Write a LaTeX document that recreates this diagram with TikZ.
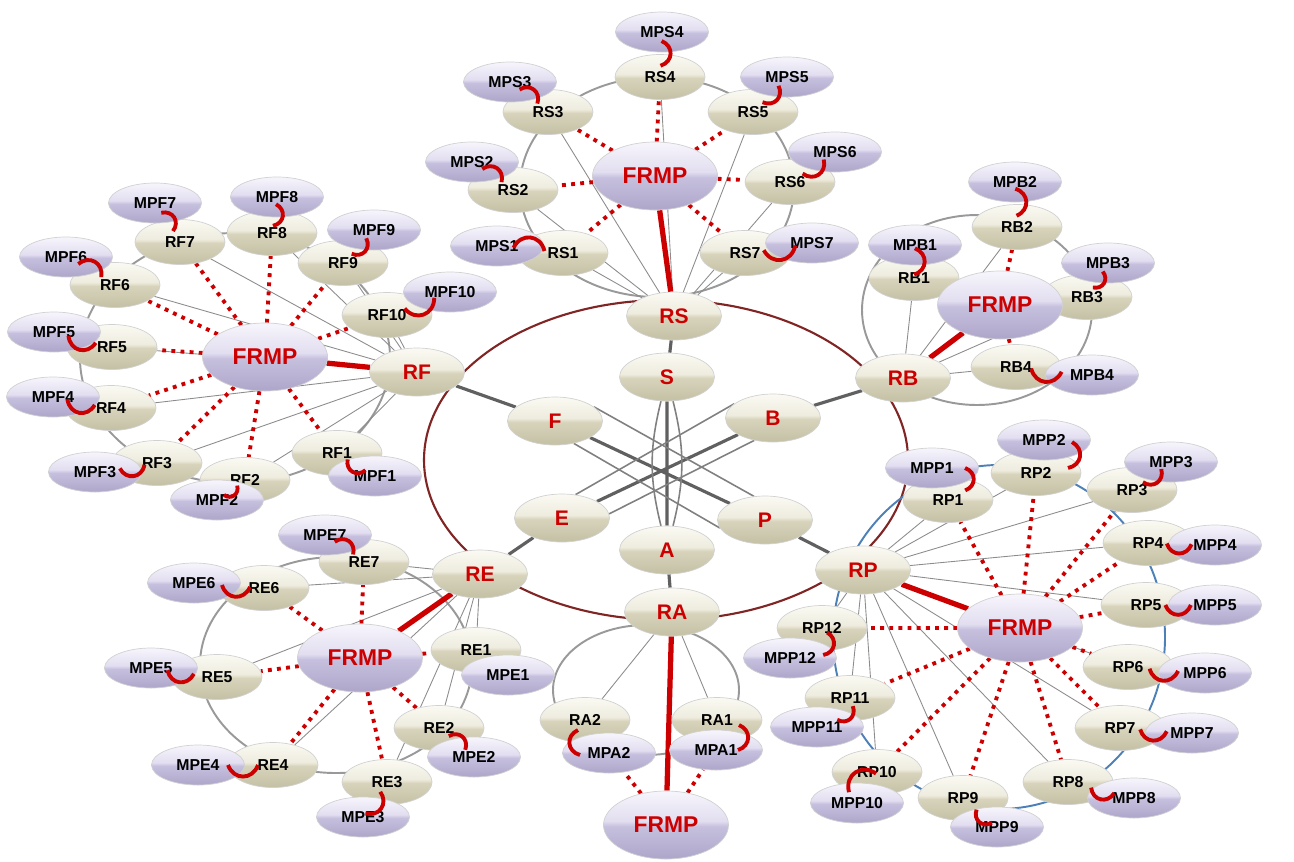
\documentclass[tikz,border=0pt]{standalone}
\usepackage{fontspec}
\setmainfont{Liberation Sans}
\usetikzlibrary{shapes.geometric,backgrounds,calc}

\definecolor{labred}{RGB}{204,0,0}
\definecolor{ringred}{RGB}{128,36,36}
\definecolor{ringblue}{RGB}{78,128,184}
\definecolor{linkgray}{RGB}{96,96,96}
\definecolor{cr1}{RGB}{196,192,164}
\definecolor{cr2}{RGB}{216,212,188}
\definecolor{cr3}{RGB}{238,236,222}
\definecolor{cr4}{RGB}{251,250,243}
\definecolor{lv1}{RGB}{174,166,202}
\definecolor{lv2}{RGB}{198,192,222}
\definecolor{lv3}{RGB}{226,222,240}
\definecolor{lv4}{RGB}{247,245,252}
\pgfdeclareverticalshading{creamshade}{100bp}{color(0bp)=(cr1); color(25bp)=(cr1); color(49bp)=(cr2); color(53bp)=(cr3); color(75bp)=(cr4); color(100bp)=(cr4)}
\pgfdeclareverticalshading{lavshade}{100bp}{color(0bp)=(lv1); color(25bp)=(lv1); color(49bp)=(lv2); color(53bp)=(lv3); color(75bp)=(lv4); color(100bp)=(lv4)}

\begin{document}
\begin{tikzpicture}[x=0.2mm,y=-0.2mm,
        core/.style={ellipse,draw=black!18,shading=creamshade,minimum width=19mm,minimum height=9.6mm,inner sep=0pt,text=labred,font=\fontsize{12}{12}\selectfont\bfseries},
        sub/.style={ellipse,draw=black!18,shading=creamshade,minimum width=18mm,minimum height=9mm,inner sep=0pt,font=\fontsize{9}{9}\selectfont\bfseries},
        mp/.style={ellipse,draw=black!18,shading=lavshade,minimum width=18.6mm,minimum height=8mm,inner sep=0pt,font=\fontsize{9}{9}\selectfont\bfseries},
        frmp/.style={ellipse,draw=black!18,shading=lavshade,minimum width=25mm,minimum height=13.6mm,inner sep=0pt,text=labred,font=\fontsize{13}{13}\selectfont\bfseries},
        ring/.style={draw=black!40,line width=1.1pt},
        spoke/.style={draw=black!45,line width=0.5pt},
        corelink/.style={draw=linkgray,line width=1.8pt},
        corethin/.style={draw=black!50,line width=0.9pt},
        frmplink/.style={draw=labred,line width=3pt},
        reddots/.style={draw=labred,line width=2.2pt,dash pattern=on 2.2pt off 3pt},
        mplink/.style={draw=labred,line width=2.2pt,looseness=1.4}
      ]
      \useasboundingbox (0,0) rectangle (1294,861);

      % centre
      \node[core] (s) at (667,377) {S};
      \node[core] (f) at (555,421) {F};
      \node[core] (b) at (773,418) {B};
      \node[core] (e) at (562,518) {E};
      \node[core] (p) at (765,520) {P};
      \node[core] (a) at (667,550) {A};
      \node[core] (rs) at (674,316) {RS};
      \node[core] (rf) at (417,372) {RF};
      \node[core] (rb) at (903,378) {RB};
      \node[core] (re) at (480,574) {RE};
      \node[core] (rp) at (863,570) {RP};
      \node[core] (ra) at (672,612) {RA};

      % RS group
      \node[sub] (rs1) at (563,253) {RS1};
      \node[sub] (rs2) at (513,190) {RS2};
      \node[sub] (rs3) at (548,112) {RS3};
      \node[sub] (rs4) at (660,77) {RS4};
      \node[sub] (rs5) at (753,112) {RS5};
      \node[sub] (rs6) at (790,182) {RS6};
      \node[sub] (rs7) at (745,253) {RS7};
      \node[frmp] (frmps) at (655,176) {FRMP};
      \node[mp] (mps1) at (497,246) {MPS1};
      \node[mp] (mps2) at (472,162) {MPS2};
      \node[mp] (mps3) at (510,82) {MPS3};
      \node[mp] (mps4) at (662,32) {MPS4};
      \node[mp] (mps5) at (787,77) {MPS5};
      \node[mp] (mps6) at (835,152) {MPS6};
      \node[mp] (mps7) at (812,243) {MPS7};

      % RF group
      \node[sub] (rf1) at (337,453) {RF1};
      \node[sub] (rf2) at (245,480) {RF2};
      \node[sub] (rf3) at (157,463) {RF3};
      \node[sub] (rf4) at (111,408) {RF4};
      \node[sub] (rf5) at (112,347) {RF5};
      \node[sub] (rf6) at (115,285) {RF6};
      \node[sub] (rf7) at (180,242) {RF7};
      \node[sub] (rf8) at (272,233) {RF8};
      \node[sub] (rf9) at (343,263) {RF9};
      \node[sub] (rf10) at (387,315) {RF10};
      \node[frmp] (frmpf) at (265,357) {FRMP};
      \node[mp] (mpf1) at (375,476) {MPF1};
      \node[mp] (mpf2) at (217,500) {MPF2};
      \node[mp] (mpf3) at (95,472) {MPF3};
      \node[mp] (mpf4) at (53,397) {MPF4};
      \node[mp] (mpf5) at (54,332) {MPF5};
      \node[mp] (mpf6) at (66,257) {MPF6};
      \node[mp] (mpf7) at (155,203) {MPF7};
      \node[mp] (mpf8) at (277,197) {MPF8};
      \node[mp] (mpf9) at (374,230) {MPF9};
      \node[mp] (mpf10) at (450,292) {MPF10};

      % RB group
      \node[sub] (rb1) at (914,278) {RB1};
      \node[sub] (rb2) at (1017,227) {RB2};
      \node[sub] (rb3) at (1087,297) {RB3};
      \node[sub] (rb4) at (1016,367) {RB4};
      \node[frmp] (frmpb) at (1000,305) {FRMP};
      \node[mp] (mpb1) at (915,245) {MPB1};
      \node[mp] (mpb2) at (1015,182) {MPB2};
      \node[mp] (mpb3) at (1108,263) {MPB3};
      \node[mp] (mpb4) at (1092,375) {MPB4};

      % RE group
      \node[sub] (re1) at (476,650) {RE1};
      \node[sub] (re2) at (439,728) {RE2};
      \node[sub] (re3) at (387,782) {RE3};
      \node[sub] (re4) at (273,765) {RE4};
      \node[sub] (re5) at (217,677) {RE5};
      \node[sub] (re6) at (264,588) {RE6};
      \node[sub] (re7) at (364,562) {RE7};
      \node[frmp] (frmpe) at (360,658) {FRMP};
      \node[mp] (mpe1) at (508,675) {MPE1};
      \node[mp] (mpe2) at (474,757) {MPE2};
      \node[mp] (mpe3) at (363,817) {MPE3};
      \node[mp] (mpe4) at (198,765) {MPE4};
      \node[mp] (mpe5) at (151,668) {MPE5};
      \node[mp] (mpe6) at (194,583) {MPE6};
      \node[mp] (mpe7) at (325,535) {MPE7};

      % RA group
      \node[sub] (ra1) at (717,720) {RA1};
      \node[sub] (ra2) at (585,720) {RA2};
      \node[frmp] (frmpa) at (666,825) {FRMP};
      \node[mp] (mpa1) at (716,750) {MPA1};
      \node[mp] (mpa2) at (609,753) {MPA2};

      % RP group
      \node[sub] (rp1) at (948,500) {RP1};
      \node[sub] (rp2) at (1036,473) {RP2};
      \node[sub] (rp3) at (1132,490) {RP3};
      \node[sub] (rp4) at (1148,543) {RP4};
      \node[sub] (rp5) at (1146,605) {RP5};
      \node[sub] (rp6) at (1128,667) {RP6};
      \node[sub] (rp7) at (1120,728) {RP7};
      \node[sub] (rp8) at (1068,782) {RP8};
      \node[sub] (rp9) at (963,798) {RP9};
      \node[sub] (rp10) at (877,772) {RP10};
      \node[sub] (rp11) at (850,698) {RP11};
      \node[sub] (rp12) at (822,628) {RP12};
      \node[frmp] (frmpp) at (1020,628) {FRMP};
      \node[mp] (mpp1) at (932,468) {MPP1};
      \node[mp] (mpp2) at (1044,440) {MPP2};
      \node[mp] (mpp3) at (1171,462) {MPP3};
      \node[mp] (mpp4) at (1215,545) {MPP4};
      \node[mp] (mpp5) at (1215,605) {MPP5};
      \node[mp] (mpp6) at (1205,673) {MPP6};
      \node[mp] (mpp7) at (1192,733) {MPP7};
      \node[mp] (mpp8) at (1134,798) {MPP8};
      \node[mp] (mpp9) at (997,827) {MPP9};
      \node[mp] (mpp10) at (857,803) {MPP10};
      \node[mp] (mpp11) at (817,727) {MPP11};
      \node[mp] (mpp12) at (790,658) {MPP12};

      \begin{scope}[on background layer]
        % rings
        \draw[ringred,line width=1.2pt] (666,460) ellipse [x radius=242, y radius=160];
        \draw[ring] (657,187) ellipse [x radius=137, y radius=110];
        \draw[ring] (235,358) ellipse [x radius=155, y radius=125];
        \draw[ring] (977,310) ellipse [x radius=115, y radius=95];
        \draw[ring] (336,665) ellipse [x radius=136, y radius=108];
        \draw[ring] (646,690) ellipse [x radius=93, y radius=65];
        \draw[ringblue,line width=1.1pt] (999,637) ellipse [x radius=166, y radius=172];

        % thin links from each R node
        \draw[spoke] (rs) -- (rs1) (rs) -- (rs2) (rs) -- (rs3) (rs) -- (rs4) (rs) -- (rs5) (rs) -- (rs6) (rs) -- (rs7);
        \draw[spoke] (rf) -- (rf1) (rf) -- (rf2) (rf) -- (rf3) (rf) -- (rf4) (rf) -- (rf5) (rf) -- (rf6) (rf) -- (rf7) (rf) -- (rf8) (rf) -- (rf9) (rf) -- (rf10);
        \draw[spoke] (rb) -- (rb1) (rb) -- (rb2) (rb) -- (rb3) (rb) -- (rb4);
        \draw[spoke] (re) -- (re1) (re) -- (re2) (re) -- (re3) (re) -- (re4) (re) -- (re5) (re) -- (re6) (re) -- (re7);
        \draw[spoke] (ra) -- (ra1) (ra) -- (ra2);
        \draw[spoke] (rp) -- (rp1) (rp) -- (rp2) (rp) -- (rp3) (rp) -- (rp4) (rp) -- (rp5) (rp) -- (rp6) (rp) -- (rp7) (rp) -- (rp8) (rp) -- (rp9) (rp) -- (rp10) (rp) -- (rp11) (rp) -- (rp12);

        % centre links
        \draw[corelink] (rs) -- (s) (a) -- (ra) (rf) -- (f) (rb) -- (b) (re) -- (e) (rp) -- (p);
        \draw[corelink] (s) -- (a) (f) -- (p) (b) -- (e);
        \draw[corethin] (s) to[bend right=14] (a);
        \draw[corethin] (s) to[bend left=14] (a);
        \draw[corethin] (f.20) -- (p.115);
        \draw[corethin] (f.-50) -- (p.190);
        \draw[corethin] (b.160) -- (e.60);
        \draw[corethin] (b.-130) -- (e.5);

        % FRMP links
        \draw[frmplink] (rs) -- (frmps);
        \draw[frmplink] (rf) -- (frmpf);
        \draw[frmplink] (rb) -- (frmpb);
        \draw[frmplink] (re) -- (frmpe);
        \draw[frmplink] (ra) -- (frmpa);
        \draw[frmplink] (rp) -- (frmpp);
        \draw[reddots] (frmps) -- (rs1) (frmps) -- (rs2) (frmps) -- (rs3) (frmps) -- (rs4) (frmps) -- (rs5) (frmps) -- (rs6) (frmps) -- (rs7);
        \draw[reddots] (frmpf) -- (rf1) (frmpf) -- (rf2) (frmpf) -- (rf3) (frmpf) -- (rf4) (frmpf) -- (rf5) (frmpf) -- (rf6) (frmpf) -- (rf7) (frmpf) -- (rf8) (frmpf) -- (rf9) (frmpf) -- (rf10);
        \draw[reddots] (frmpb) -- (rb1) (frmpb) -- (rb2) (frmpb) -- (rb3) (frmpb) -- (rb4);
        \draw[reddots] (frmpe) -- (re1) (frmpe) -- (re2) (frmpe) -- (re3) (frmpe) -- (re4) (frmpe) -- (re5) (frmpe) -- (re6) (frmpe) -- (re7);
        \draw[reddots] (frmpa) -- (mpa1) (frmpa) -- (mpa2);
        \draw[reddots] (frmpp) -- (rp1) (frmpp) -- (rp2) (frmpp) -- (rp3) (frmpp) -- (rp4) (frmpp) -- (rp5) (frmpp) -- (rp6) (frmpp) -- (rp7) (frmpp) -- (rp8) (frmpp) -- (rp9) (frmpp) -- (rp10) (frmpp) -- (rp11) (frmpp) -- (rp12);
      \end{scope}

      % red hooks between MP and R nodes
      \draw[mplink] ($(mps1)!.25!(rs1)$) to[bend left=70] ($(mps1)!.72!(rs1)$);
      \draw[mplink] ($(mps2)!.25!(rs2)$) to[bend left=70] ($(mps2)!.72!(rs2)$);
      \draw[mplink] ($(mps3)!.25!(rs3)$) to[bend left=70] ($(mps3)!.72!(rs3)$);
      \draw[mplink] ($(mps4)!.2!(rs4)$) to[bend left=70] ($(mps4)!.75!(rs4)$);
      \draw[mplink] ($(mps5)!.25!(rs5)$) to[bend left=70] ($(mps5)!.72!(rs5)$);
      \draw[mplink] ($(mps6)!.25!(rs6)$) to[bend left=70] ($(mps6)!.72!(rs6)$);
      \draw[mplink] ($(mps7)!.25!(rs7)$) to[bend left=70] ($(mps7)!.72!(rs7)$);

      \draw[mplink] ($(mpf1)!.25!(rf1)$) to[bend left=70] ($(mpf1)!.72!(rf1)$);
      \draw[mplink] ($(mpf2)!.25!(rf2)$) to[bend right=70] ($(mpf2)!.72!(rf2)$);
      \draw[mplink] ($(mpf3)!.4!(rf3)$) to[bend right=70] ($(mpf3)!.8!(rf3)$);
      \draw[mplink] ($(mpf4)!.25!(rf4)$) to[bend right=70] ($(mpf4)!.72!(rf4)$);
      \draw[mplink] ($(mpf5)!.25!(rf5)$) to[bend right=70] ($(mpf5)!.72!(rf5)$);
      \draw[mplink] ($(mpf6)!.25!(rf6)$) to[bend left=70] ($(mpf6)!.72!(rf6)$);
      \draw[mplink] ($(mpf7)!.25!(rf7)$) to[bend left=70] ($(mpf7)!.72!(rf7)$);
      \draw[mplink] ($(mpf8)!.2!(rf8)$) to[bend left=70] ($(mpf8)!.8!(rf8)$);
      \draw[mplink] ($(mpf9)!.25!(rf9)$) to[bend left=70] ($(mpf9)!.72!(rf9)$);
      \draw[mplink] ($(mpf10)!.25!(rf10)$) to[bend left=70] ($(mpf10)!.72!(rf10)$);

      \draw[mplink] ($(mpb1)!.1!(rb1)$) to[bend left=70] ($(mpb1)!.9!(rb1)$);
      \draw[mplink] ($(mpb2)!.15!(rb2)$) to[bend left=70] ($(mpb2)!.75!(rb2)$);
      \draw[mplink] ($(mpb3)!.25!(rb3)$) to[bend left=70] ($(mpb3)!.72!(rb3)$);
      \draw[mplink] ($(mpb4)!.4!(rb4)$) to[bend left=70] ($(mpb4)!.8!(rb4)$);

      \draw[mplink] ($(mpe2)!.25!(re2)$) to[bend right=70] ($(mpe2)!.72!(re2)$);
      \draw[mplink] ($(mpe3)!.1!(re3)$) to[bend right=70] ($(mpe3)!.72!(re3)$);
      \draw[mplink] ($(mpe4)!.4!(re4)$) to[bend right=70] ($(mpe4)!.8!(re4)$);
      \draw[mplink] ($(mpe5)!.25!(re5)$) to[bend right=70] ($(mpe5)!.65!(re5)$);
      \draw[mplink] ($(mpe6)!.4!(re6)$) to[bend right=70] ($(mpe6)!.8!(re6)$);
      \draw[mplink] ($(mpe7)!.25!(re7)$) to[bend left=70] ($(mpe7)!.72!(re7)$);

      \draw[mplink] ($(mpa1)+(22,0)$) to[bend right=70] ($(ra1)+(22,5)$);
      \draw[mplink] ($(mpa2)+(-29,2)$) to[bend left=70] ($(ra2)+(-7,10)$);

      \draw[mplink] ($(mpp1)!.0!(rp1)+(33,0)$) to[bend left=70] ($(mpp1)!.7!(rp1)+(22,0)$);
      \draw[mplink] ($(mpp2)+(28,2)$) to[bend left=70] ($(rp2)+(32,-5)$);
      \draw[mplink] ($(mpp3)!.25!(rp3)$) to[bend left=70] ($(mpp3)!.72!(rp3)$);
      \draw[mplink] ($(mpp4)!.35!(rp4)$) to[bend left=70] ($(mpp4)!.72!(rp4)$);
      \draw[mplink] ($(mpp5)!.35!(rp5)$) to[bend left=70] ($(mpp5)!.72!(rp5)$);
      \draw[mplink] ($(mpp6)!.35!(rp6)$) to[bend left=70] ($(mpp6)!.72!(rp6)$);
      \draw[mplink] ($(mpp7)!.35!(rp7)$) to[bend left=70] ($(mpp7)!.72!(rp7)$);
      \draw[mplink] ($(mpp8)!.3!(rp8)$) to[bend left=70] ($(mpp8)!.65!(rp8)$);
      \draw[mplink] ($(mpp9)!.15!(rp9)$) to[bend left=70] ($(mpp9)!.6!(rp9)$);
      \draw[mplink] ($(mpp10)!.35!(rp10)+(-15,0)$) to[bend left=70] ($(mpp10)!.95!(rp10)$);
      \draw[mplink] ($(mpp11)!.25!(rp11)+(12,0)$) to[bend right=70] ($(mpp11)!.72!(rp11)+(12,0)$);
      \draw[mplink] ($(mpp12)!.1!(rp12)+(30,0)$) to[bend right=70] ($(mpp12)!.85!(rp12)+(10,0)$);
    \end{tikzpicture}
\end{document}
